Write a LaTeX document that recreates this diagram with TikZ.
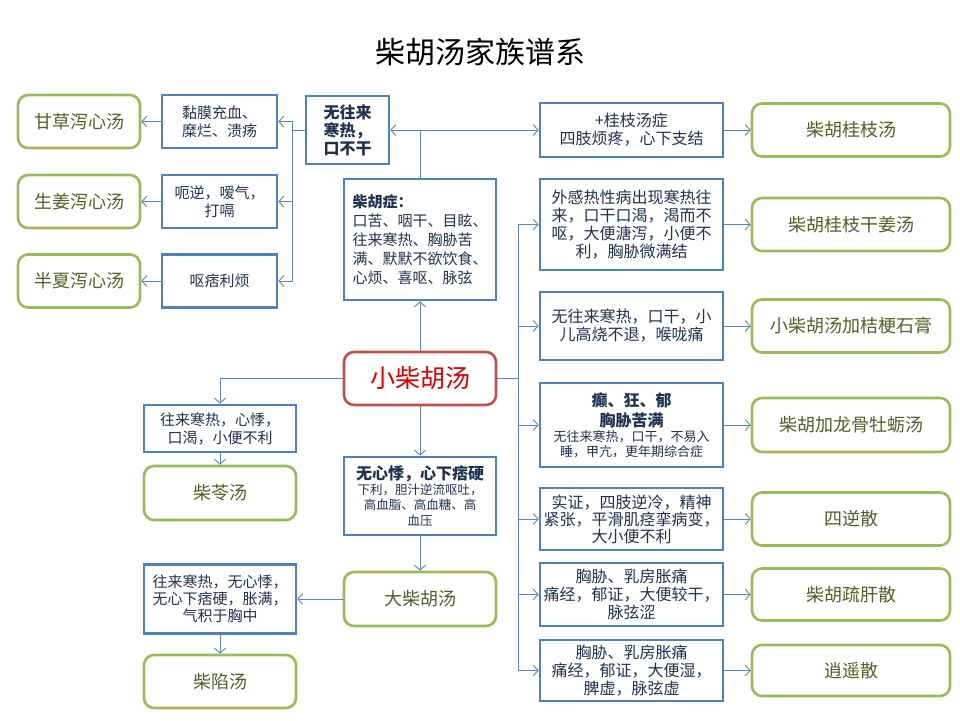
\documentclass[tikz,border=0pt]{standalone}
\usepackage{fontspec}
\setmainfont{Noto Sans CJK SC}
\usetikzlibrary{arrows.meta}
\definecolor{bbd}{HTML}{4F81BD}
\definecolor{gbd}{HTML}{9BBB59}
\definecolor{rbd}{HTML}{C0504D}
\definecolor{btx}{HTML}{1F3350}
\definecolor{gtx}{HTML}{4F6228}
\definecolor{rtx}{HTML}{D80000}
\definecolor{lnc}{HTML}{5B86C0}
\newcommand{\bigbold}[1]{{\bfseries\fontsize{16}{19}\selectfont #1}}
\tikzset{
  bbox/.style={draw=bbd, line width=2.6pt, fill=white, text=btx, align=center, inner sep=1pt,
     font=\fontsize{15}{18}\selectfont},
  gbox/.style={draw=gbd, line width=2.6pt, fill=white, text=gtx, align=center, rounded corners=10pt,
     font=\fontsize{18}{20}\selectfont},
  rbox/.style={draw=rbd, line width=2.6pt, fill=white, text=rtx, align=center, rounded corners=10pt,
     font=\fontsize{25}{28}\selectfont},
  conn/.style={draw=lnc, line width=0.9pt},
  arr/.style={conn, -{Straight Barb[length=5pt,width=11pt,line width=0.9pt]}},
}
\begin{document}
\begin{tikzpicture}[x=1pt,y=-1pt]
\useasboundingbox[fill=white] (0,0) rectangle (960,720);
\node[font=\fontsize{30}{32}\selectfont, text=black] (title) at (480,52) {柴胡汤家族谱系};

% left top column
\node[gbox, minimum width=122, minimum height=53] (gc) at (79,121.5) {甘草泻心汤};
\node[gbox, minimum width=122, minimum height=53] (sj) at (79,201.5) {生姜泻心汤};
\node[gbox, minimum width=122, minimum height=53] (bx) at (79,281) {半夏泻心汤};
\node[bbox, minimum width=115, minimum height=53] (nm) at (219.5,121.5) {黏膜充血、\\糜烂、溃疡};
\node[bbox, minimum width=115, minimum height=53] (en) at (219.5,201.5) {呃逆，嗳气，\\打嗝};
\node[bbox, minimum width=115, minimum height=53] (ob) at (219.5,281) {呕痞利烦};
\node[bbox, minimum width=83, minimum height=68, font=\bfseries\fontsize{16}{18}\selectfont, align=left] (wwl) at (347.5,130) {无往来\\寒热，\\口不干};

% centre
\node[bbox, minimum width=152, minimum height=121, align=left, font=\fontsize{15}{19}\selectfont] (czz) at (420,239.5)
  {{\bfseries 柴胡症：}\\口苦、咽干、目眩、\\往来寒热、胸胁苦\\满、默默不欲饮食、\\心烦、喜呕、脉弦};
\node[rbox, minimum width=152, minimum height=53] (xch) at (420,378.5) {小柴胡汤};
\node[bbox, minimum width=152, minimum height=78, font=\fontsize{12.5}{15.5}\selectfont] (wxj) at (420,496)
  {\bigbold{无心悸，心下痞硬}\\[-1pt]下利，胆汁逆流呕吐，\\高血脂、高血糖、高\\血压};
\node[gbox, minimum width=152, minimum height=54] (dch) at (420,599) {大柴胡汤};

% left bottom
\node[bbox, minimum width=152, minimum height=47] (b2) at (220,428.5) {往来寒热，心悸，\\口渴，小便不利};
\node[gbox, minimum width=152, minimum height=54] (cl) at (220,493) {柴苓汤};
\node[bbox, minimum width=152, minimum height=69, font=\fontsize{15}{17}\selectfont] (b3) at (220,599) {往来寒热，无心悸，\\无心下痞硬，胀满，\\气积于胸中};
\node[gbox, minimum width=152, minimum height=53] (cx) at (220,681.5) {柴陷汤};

% right column
\node[bbox, minimum width=183, minimum height=54, font=\fontsize{16}{18}\selectfont] (r1) at (631.5,130) {+桂枝汤症\\四肢烦疼，心下支结};
\node[bbox, minimum width=183, minimum height=91, font=\fontsize{16}{18}\selectfont] (r2) at (631.5,224.5) {外感热性病出现寒热往\\来，口干口渴，渴而不\\呕，大便溏泻，小便不\\利，胸胁微满结};
\node[bbox, minimum width=183, minimum height=68, font=\fontsize{16}{18}\selectfont] (r3) at (631.5,326) {无往来寒热，口干，小\\儿高烧不退，喉咙痛};
\node[bbox, minimum width=183, minimum height=84, font=\fontsize{13}{14.5}\selectfont] (r4) at (631.5,425)
  {\bigbold{癫、狂、郁}\\[4pt]\bigbold{胸胁苦满}\\[1pt]无往来寒热，口干，不易入\\睡，甲亢，更年期综合症};
\node[bbox, minimum width=183, minimum height=62, font=\fontsize{16}{17}\selectfont] (r5) at (631.5,519) {实证，四肢逆冷，精神\\紧张，平滑肌痉挛病变，\\大小便不利};
\node[bbox, minimum width=183, minimum height=63, font=\fontsize{16}{18}\selectfont] (r6) at (631.5,594.5) {胸胁、乳房胀痛\\痛经，郁证，大便较干，\\脉弦涩};
\node[bbox, minimum width=183, minimum height=61, font=\fontsize{16}{18}\selectfont] (r7) at (631.5,670.5) {胸胁、乳房胀痛\\痛经，郁证，大便湿，\\脾虚，脉弦虚};

\node[gbox, minimum width=198, minimum height=53] (g1) at (851,130) {柴胡桂枝汤};
\node[gbox, minimum width=198, minimum height=53] (g2) at (851,224.5) {柴胡桂枝干姜汤};
\node[gbox, minimum width=198, minimum height=53] (g3) at (851,326) {小柴胡汤加桔梗石膏};
\node[gbox, minimum width=198, minimum height=54] (g4) at (851,425) {柴胡加龙骨牡蛎汤};
\node[gbox, minimum width=198, minimum height=53] (g5) at (851,519) {四逆散};
\node[gbox, minimum width=198, minimum height=52] (g6) at (851,594.5) {柴胡疏肝散};
\node[gbox, minimum width=198, minimum height=51] (g7) at (851,670.5) {逍遥散};

% junctions
\coordinate (j1) at (292,130);
\coordinate (j2) at (420,130);
\coordinate (j3) at (518,378.5);

% connectors
\draw[conn] (wwl.west) -- (j1);
\draw[arr] (j1) |- (nm.east);
\draw[arr] (j1) |- (en.east);
\draw[arr] (j1) |- (ob.east);
\draw[arr] (nm.west) -- (gc.east);
\draw[arr] (en.west) -- (sj.east);
\draw[arr] (ob.west) -- (bx.east);

\draw[conn] (czz.north) -- (j2);
\draw[arr] (j2) -- (wwl.east);
\draw[arr] (j2) -- (r1.west);
\draw[arr] (xch.north) -- (czz.south);
\draw[arr] (xch.south) -- (wxj.north);
\draw[arr] (wxj.south) -- (dch.north);
\draw[arr] (dch.west) -- (b3.east);
\draw[arr] (b3.south) -- (cx.north);
\draw[arr] (xch.west) -| (b2.north);
\draw[arr] (b2.south) -- (cl.north);

\draw[conn] (xch.east) -- (j3);
\foreach \r in {r2,r3,r4,r5,r6,r7} { \draw[arr] (j3) |- (\r.west); }
\foreach \r/\g in {r1/g1,r2/g2,r3/g3,r4/g4,r5/g5,r6/g6,r7/g7} { \draw[arr] (\r.east) -- (\g.west); }
\end{tikzpicture}
\end{document}
